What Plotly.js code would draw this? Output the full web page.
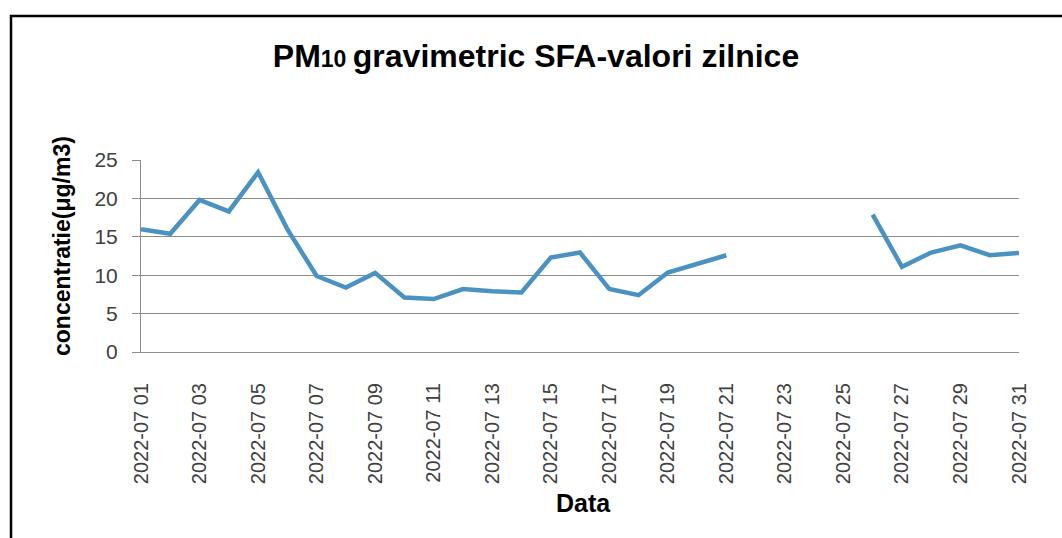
<!DOCTYPE html>
<html>
<head>
<meta charset="utf-8">
<script src="https://cdn.plot.ly/plotly-3.0.1.min.js"></script>
<style>
  html, body { margin: 0; padding: 0; background: #ffffff; }
  #chart { width: 1062px; height: 538px; }
</style>
</head>
<body>
<div id="chart"></div>
<script>
// Dates (categories)
const dates = [
  "2022-07 01","2022-07 02","2022-07 03","2022-07 04","2022-07 05","2022-07 06",
  "2022-07 07","2022-07 08","2022-07 09","2022-07 10","2022-07 11","2022-07 12",
  "2022-07 13","2022-07 14","2022-07 15","2022-07 16","2022-07 17","2022-07 18",
  "2022-07 19","2022-07 20","2022-07 21","2022-07 22","2022-07 23","2022-07 24",
  "2022-07 25","2022-07 26","2022-07 27","2022-07 28","2022-07 29","2022-07 30",
  "2022-07 31"
];
// PM10 daily values (µg/m3); null = missing
const pm10 = [
  16.0, 15.4, 19.8, 18.3, 23.4, 16.0, 9.9, 8.4, 10.3, 7.1, 6.9, 8.2,
  7.9, 7.75, 12.3, 12.95, 8.2, 7.4, 10.35, 11.5, 12.6, null, null, null,
  null, 17.9, 11.1, 12.95, 13.9, 12.6, 12.9
];
// Tick labels shown on the x axis (every second day)
const xTickLabels = [
  "2022-07 01","2022-07 03","2022-07 05","2022-07 07","2022-07 09","2022-07 11",
  "2022-07 13","2022-07 15","2022-07 17","2022-07 19","2022-07 21","2022-07 23",
  "2022-07 25","2022-07 27","2022-07 29","2022-07 31"
];
const yTicks = [0, 5, 10, 15, 20, 25];

const W = 1062, H = 538;
const mL = 141, mR = 43, mT = 160, mB = 186;
const pw = W - mL - mR, ph = H - mT - mB;
const px = v => (v - mL) / pw;
const py = v => (H - mB - v) / ph;

const trace = {
  type: 'scatter',
  mode: 'lines',
  x: dates,
  y: pm10,
  connectgaps: false,
  line: { color: '#4a92c2', width: 4.5 },
  hoverinfo: 'x+y',
  showlegend: false
};

const layout = {
  width: W, height: H,
  margin: { l: mL, r: mR, t: mT, b: mB, pad: 0 },
  paper_bgcolor: '#ffffff',
  plot_bgcolor: '#ffffff',
  font: { family: 'Liberation Sans, Arial, sans-serif', color: '#404040' },
  title: {
    text: "PM<span style='font-size:23px'>10 </span>gravimetric SFA-valori zilnice",
    font: { family: 'Liberation Sans, Arial, sans-serif', size: 32, color: '#000000', weight: 'bold' },
    x: 536 / W, xref: 'container', xanchor: 'center',
    y: 1 - 56 / H, yref: 'container', yanchor: 'middle'
  },
  xaxis: {
    type: 'category',
    range: [0, dates.length - 1],
    tickmode: 'array',
    tickvals: xTickLabels,
    ticktext: xTickLabels,
    tickangle: -90,
    tickfont: { size: 20, color: '#404040' },
    ticks: '',
    ticklabelstandoff: 22,
    showgrid: false,
    showline: true,
    linecolor: '#8c8c8c',
    linewidth: 1,
    zeroline: false,
    fixedrange: true,
    automargin: false
  },
  yaxis: {
    range: [0, 25],
    tickmode: 'array',
    tickvals: yTicks,
    ticktext: yTicks.map(String),
    tickfont: { size: 21, color: '#404040' },
    ticks: 'outside',
    ticklen: 8,
    tickcolor: '#8c8c8c',
    ticklabelstandoff: 10,
    showgrid: true,
    gridcolor: '#8c8c8c',
    gridwidth: 1,
    showline: true,
    linecolor: '#8c8c8c',
    linewidth: 1,
    zeroline: false,
    fixedrange: true,
    automargin: false
  },
  annotations: [
    {
      text: 'concentratie(μg/m3)',
      xref: 'paper', yref: 'paper',
      x: px(62), y: py(246),
      xanchor: 'center', yanchor: 'middle',
      textangle: -90, showarrow: false,
      font: { family: 'Liberation Sans, Arial, sans-serif', size: 23, color: '#000000', weight: 'bold' }
    },
    {
      text: 'Data',
      xref: 'paper', yref: 'paper',
      x: px(583), y: py(503),
      xanchor: 'center', yanchor: 'middle',
      showarrow: false,
      font: { family: 'Liberation Sans, Arial, sans-serif', size: 25, color: '#000000', weight: 'bold' }
    }
  ],
  shapes: [
    {
      type: 'path', xref: 'paper', yref: 'paper',
      path: 'M ' + px(11) + ',' + py(560) + ' L ' + px(11) + ',' + py(16) + ' L ' + px(1080) + ',' + py(16),
      line: { color: '#000000', width: 2.5 }
    }
  ]
};

Plotly.newPlot('chart', [trace], layout, { displayModeBar: false, staticPlot: true });
</script>
</body>
</html>
